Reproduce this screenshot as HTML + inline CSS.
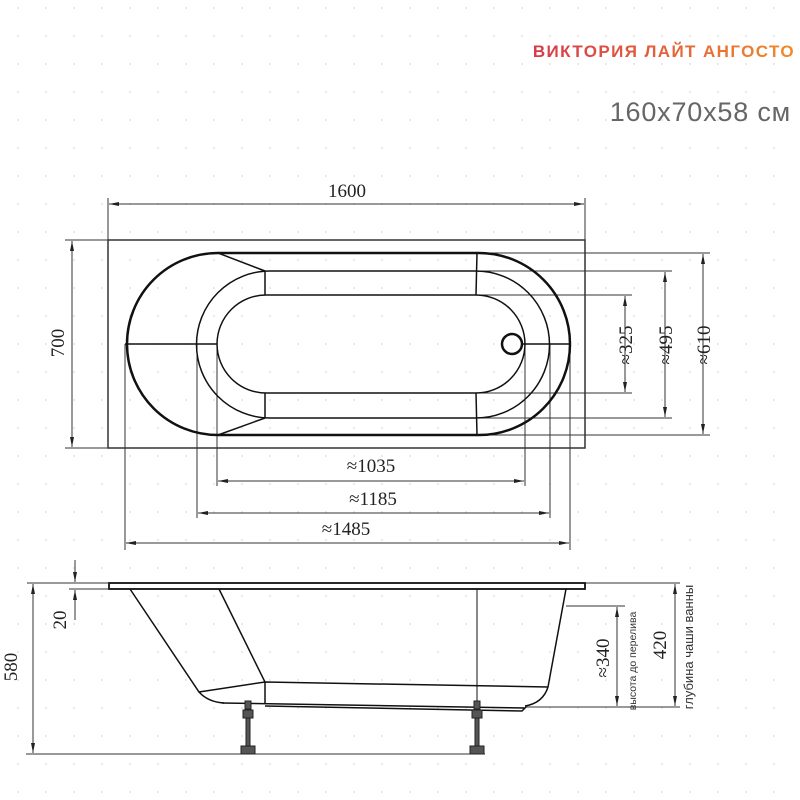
<!DOCTYPE html>
<html><head><meta charset="utf-8"><style>
html,body{margin:0;padding:0;background:#fff;}
svg{display:block;}
</style></head><body>
<svg width="800" height="800" viewBox="0 0 800 800" xmlns="http://www.w3.org/2000/svg">
<defs>
<pattern id="dots" x="185" y="175" width="28" height="28" patternUnits="userSpaceOnUse">
<circle cx="1" cy="1" r="1" fill="#e2e2e2"/>
</pattern>
<linearGradient id="tg" x1="0" x2="1" y1="0" y2="0">
<stop offset="0" stop-color="#d63a4a"/><stop offset="1" stop-color="#f08a2a"/>
</linearGradient>
<marker id="ar" viewBox="0 0 10 4" refX="10" refY="2" markerWidth="10" markerHeight="4" markerUnits="userSpaceOnUse" orient="auto-start-reverse">
<path d="M0,0 L10,2 L0,4 z" fill="#222"/>
</marker>
</defs>
<rect x="0" y="0" width="800" height="800" fill="url(#dots)"/>

<text x="795" y="57" text-anchor="end" font-family="Liberation Sans, sans-serif" font-weight="bold" font-size="17" letter-spacing="1.4" fill="url(#tg)">ВИКТОРИЯ ЛАЙТ АНГОСТО</text>
<text x="791" y="121" text-anchor="end" font-family="Liberation Sans, sans-serif" font-size="27" letter-spacing="0.8" fill="#666">160x70x58 см</text>

<g fill="none" stroke="#333" stroke-width="1">
<line x1="108" y1="198" x2="108" y2="240"/><line x1="585" y1="198" x2="585" y2="240"/>
<line x1="109" y1="204" x2="584" y2="204" marker-start="url(#ar)" marker-end="url(#ar)"/>
<line x1="65" y1="240" x2="108" y2="240"/><line x1="65" y1="448" x2="108" y2="448"/>
<line x1="72" y1="241" x2="72" y2="447" marker-start="url(#ar)" marker-end="url(#ar)"/>
<line x1="125" y1="344" x2="125" y2="550"/>
<line x1="197" y1="344" x2="197" y2="518"/>
<line x1="217" y1="344" x2="217" y2="486"/>
<line x1="525" y1="344" x2="525" y2="486"/>
<line x1="550" y1="344" x2="550" y2="518"/>
<line x1="570" y1="344" x2="570" y2="550"/>
<line x1="218" y1="481" x2="524" y2="481" marker-start="url(#ar)" marker-end="url(#ar)"/>
<line x1="198" y1="513" x2="549" y2="513" marker-start="url(#ar)" marker-end="url(#ar)"/>
<line x1="126" y1="543" x2="569" y2="543" marker-start="url(#ar)" marker-end="url(#ar)"/>
<line x1="479" y1="253" x2="710" y2="253"/><line x1="479" y1="435" x2="710" y2="435"/>
<line x1="476" y1="271" x2="672" y2="271"/><line x1="476" y1="418" x2="672" y2="418"/>
<line x1="476" y1="295" x2="632" y2="295"/><line x1="476" y1="393" x2="632" y2="393"/>
<line x1="625" y1="296" x2="625" y2="392" marker-start="url(#ar)" marker-end="url(#ar)"/>
<line x1="665" y1="272" x2="665" y2="417" marker-start="url(#ar)" marker-end="url(#ar)"/>
<line x1="703" y1="254" x2="703" y2="434" marker-start="url(#ar)" marker-end="url(#ar)"/>
</g>

<rect x="108" y="240" width="477" height="208" fill="none" stroke="#333" stroke-width="1.5"/>
<g fill="none" stroke="#111">
<path d="M218,253 L479,253 A91,91 0 0 1 479,435 L218,435 A91,91 0 0 1 218,253 Z" stroke-width="2.5"/>
<path d="M270,271 L476,271 A73.5,73.5 0 0 1 476,418 L270,418 A73.5,73.5 0 0 1 270,271 Z" stroke-width="1.5"/>
<path d="M266,295 L476,295 A49,49 0 0 1 476,393 L266,393 A49,49 0 0 1 266,295 Z" stroke-width="1.5"/>
<line x1="218" y1="253" x2="265" y2="271" stroke-width="1.5"/>
<line x1="218" y1="435" x2="265" y2="418" stroke-width="1.5"/>
<line x1="265" y1="271" x2="265" y2="295" stroke-width="1.5"/>
<line x1="265" y1="393" x2="265" y2="418" stroke-width="1.5"/>
<line x1="477" y1="253" x2="476" y2="295" stroke-width="1.5"/>
<line x1="476" y1="393" x2="477" y2="435" stroke-width="1.5"/>
<line x1="125" y1="344" x2="217" y2="344" stroke-width="1.5"/>
<line x1="523" y1="344" x2="570" y2="344" stroke-width="1.5"/>
<circle cx="512" cy="344" r="10" stroke-width="2.5" fill="#fff"/>
</g>

<g font-family="Liberation Serif, serif" font-size="19" fill="#222" text-anchor="middle">
<text x="347" y="197">1600</text>
<text x="371" y="472">≈1035</text>
<text x="373" y="505">≈1185</text>
<text x="346" y="535">≈1485</text>
<text transform="translate(64,343) rotate(-90)">700</text>
<text transform="translate(632,345) rotate(-90)">≈325</text>
<text transform="translate(672,345) rotate(-90)">≈495</text>
<text transform="translate(710,345) rotate(-90)">≈610</text>
<text transform="translate(66,620) rotate(-90)">20</text>
<text transform="translate(17,667) rotate(-90)">580</text>
<text transform="translate(609,658) rotate(-90)">≈340</text>
<text transform="translate(666,645) rotate(-90)">420</text>
</g>
<g font-family="Liberation Sans, sans-serif" fill="#333" text-anchor="middle">
<text transform="translate(636,661) rotate(-90)" font-size="10.5">высота до перелива</text>
<text transform="translate(693,647) rotate(-90)" font-size="13">глубина чаши ванны</text>
</g>

<g fill="none" stroke="#333" stroke-width="1">
<line x1="27" y1="583" x2="108" y2="583"/>
<line x1="69" y1="589" x2="108" y2="589"/>
<line x1="75" y1="560" x2="75" y2="582" marker-end="url(#ar)"/>
<line x1="75" y1="620" x2="75" y2="590" marker-end="url(#ar)"/>
<line x1="33" y1="584" x2="33" y2="753" marker-start="url(#ar)" marker-end="url(#ar)"/>
<line x1="26" y1="754" x2="485" y2="754"/>
<line x1="585" y1="583" x2="680" y2="583"/>
<line x1="566" y1="606" x2="625" y2="606"/>
<line x1="525" y1="707" x2="680" y2="707"/>
<line x1="617" y1="607" x2="617" y2="706" marker-start="url(#ar)" marker-end="url(#ar)"/>
<line x1="675" y1="584" x2="675" y2="706" marker-start="url(#ar)" marker-end="url(#ar)"/>
</g>

<g fill="none" stroke="#111" stroke-width="1.5">
<rect x="109" y="583" width="476" height="6" stroke-width="1.8"/>
<path d="M130,589 L199,692 Q208,702 224,703"/>
<path d="M219,589 L265,682 L265,703"/>
<path d="M199,692 L265,682 L548,687"/>
<path d="M566,589 L548,687 Q543,703 525,706"/>
<path d="M222,703 L525,708 L522,711 L265,706"/>
<line x1="477" y1="589" x2="477" y2="705" stroke-width="1"/>
</g>
<g fill="#555" stroke="#222" stroke-width="1">
<rect x="245" y="701" width="6" height="8"/>
<rect x="243" y="710" width="10" height="8"/>
<rect x="246" y="718" width="4" height="28"/>
<rect x="241" y="746" width="14" height="8"/>
<rect x="474" y="701" width="6" height="8"/>
<rect x="472" y="710" width="10" height="8"/>
<rect x="475" y="718" width="4" height="28"/>
<rect x="470" y="746" width="14" height="8"/>
</g>
</svg>
</body></html>
